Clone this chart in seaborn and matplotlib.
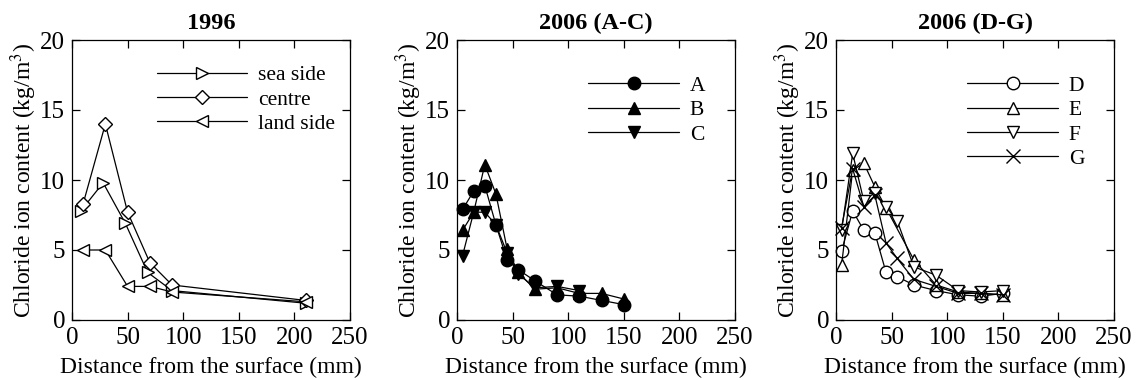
import numpy as np
import pandas as pd
import matplotlib
matplotlib.use("Agg")
import matplotlib.pyplot as plt
import seaborn as sns

# 1996 survey
x_sea = [8, 28, 48, 68, 90, 210]
y_sea = [7.8, 9.8, 6.9, 3.4, 2.1, 1.2]
x_centre = [10, 30, 50, 70, 90, 210]
y_centre = [8.3, 14.0, 7.7, 4.1, 2.5, 1.4]
x_land = [10, 30, 50, 70, 90, 210]
y_land = [5.0, 5.0, 2.4, 2.4, 2.0, 1.3]

# 2006 survey
depth_11 = [5, 15, 25, 35, 45, 55, 70, 90, 110, 130, 150]
y_a = [7.9, 9.2, 9.6, 6.8, 4.3, 3.6, 2.8, 1.8, 1.7, 1.4, 1.1]
y_b = [6.4, 7.7, 11.1, 9.0, 5.1, 3.4, 2.2, 2.3, 1.9, 1.9, 1.5]
depth_c = [5, 15, 25, 35, 45, 55, 70, 90, 110]
y_c = [4.6, 7.7, 7.7, 6.8, 4.8, 3.3, 2.3, 2.4, 2.1]

y_d = [4.9, 7.8, 6.4, 6.2, 3.4, 3.1, 2.5, 2.1, 1.8, 1.7, 1.9]
depth_e = [5, 15, 25, 35, 45, 70, 90, 110, 130, 150]
y_e = [3.9, 10.7, 11.2, 9.5, 8.0, 4.3, 2.5, 2.0, 1.9, 1.8]
y_f = [6.4, 11.9, 8.5, 9.1, 8.1, 7.1, 3.8, 3.2, 2.1, 2.0, 2.1]
y_g = [6.6, 10.8, 8.1, 8.9, 5.5, 4.4, 2.9, 2.4, 1.9, 1.9, 1.8]

panels = [
    ("1996", [
        ("sea side", x_sea, y_sea, ">", "white"),
        ("centre", x_centre, y_centre, "D", "white"),
        ("land side", x_land, y_land, "<", "white"),
    ]),
    ("2006 (A-C)", [
        ("A", depth_11, y_a, "o", "black"),
        ("B", depth_11, y_b, "^", "black"),
        ("C", depth_c, y_c, "v", "black"),
    ]),
    ("2006 (D-G)", [
        ("D", depth_11, y_d, "o", "white"),
        ("E", depth_e, y_e, "^", "white"),
        ("F", depth_11, y_f, "v", "white"),
        ("G", depth_11, y_g, "x", "none"),
    ]),
]

sns.set_theme(style="ticks")
plt.rcParams['font.family'] = ['Liberation Serif', 'DejaVu Serif']
plt.rcParams['mathtext.fontset'] = 'stix'
plt.rcParams.update({'text.color': 'black', 'axes.labelcolor': 'black',
                     'xtick.color': 'black', 'ytick.color': 'black',
                     'axes.edgecolor': 'black'})

fig = plt.figure(figsize=(11.38, 3.8), dpi=100)
lefts = [72 / 1138, 457 / 1138, 836 / 1138]
width = 278 / 1138
# legend anchors (axes fraction) for each panel
leg_anchor = [(0.304, 0.91), (0.473, 0.872), (0.473, 0.872)]

for left, anchor, (title, series) in zip(lefts, leg_anchor, panels):
    ax = fig.add_axes([left, 60 / 380, width, 280 / 380])
    for name, xs, ys, mk, fc in series:
        df = pd.DataFrame({"x": xs, "y": ys})
        ms = 9 if mk != "D" else 7.5
        if mk == "x":
            ms = 10
        sns.lineplot(data=df, x="x", y="y", ax=ax, label=name, color="black",
                     marker=mk, markersize=ms, markerfacecolor=fc,
                     markeredgecolor="black", markeredgewidth=1.0,
                     linewidth=0.9, sort=False, estimator=None, clip_on=False)
    ax.set_xlim(0, 250)
    ax.set_ylim(0, 20)
    ax.set_xticks([0, 50, 100, 150, 200, 250])
    ax.set_yticks([0, 5, 10, 15, 20])
    ax.tick_params(direction="in", length=6, width=0.9, top=True, right=True,
                   labelsize=18, pad=5, colors="black")
    for sp in ax.spines.values():
        sp.set_linewidth(0.9)
        sp.set_color("black")
    ax.set_xlabel("Distance from the surface (mm)", fontsize=17, labelpad=6,
                  color="black")
    ax.set_ylabel("Chloride ion content (kg/m$^3$)", fontsize=17, labelpad=1,
                  color="black")
    ax.set_title(title, fontsize=17.5, fontweight="bold", pad=8, color="black")
    leg = ax.legend(loc="upper left", bbox_to_anchor=anchor, frameon=False,
                    fontsize=15.5, handlelength=4.2, numpoints=1,
                    labelspacing=0.2, borderpad=0, borderaxespad=0,
                    handletextpad=0.5)
    for t in leg.get_texts():
        t.set_color("black")

fig.savefig("out.png", dpi=100, facecolor="white")
